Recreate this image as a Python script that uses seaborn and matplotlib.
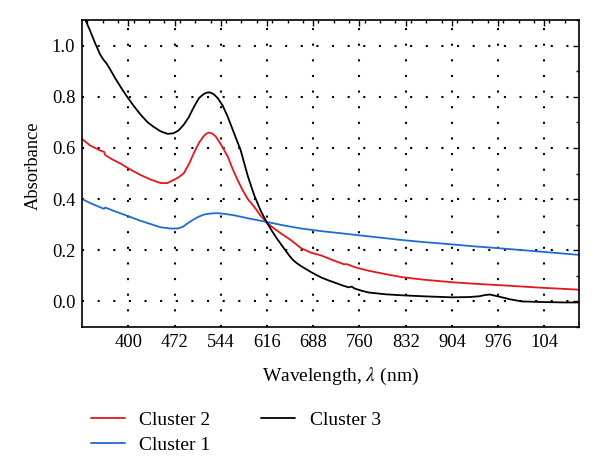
import matplotlib
matplotlib.use("Agg")
import matplotlib.pyplot as plt
import seaborn as sns
import pandas as pd
from matplotlib.ticker import FixedLocator, MultipleLocator

wl_c3 = [328, 333, 340, 348, 356, 361, 366, 372, 380, 390, 398, 408, 419, 430, 439, 450,
         461, 470, 478, 486, 494, 502, 510, 517, 522, 527, 533, 539, 547, 555, 565, 575,
         586, 596, 606, 616, 625, 633, 643, 651, 656, 662, 669, 685, 700, 712, 721, 733,
         743, 748, 752, 763, 774, 800, 826, 860, 904, 930, 946, 956, 963, 972, 982, 995,
         1013, 1040, 1060, 1080, 1102]
ab_c3 = [1.13, 1.10, 1.06, 1.01, 0.965, 0.945, 0.93, 0.905, 0.87, 0.83, 0.80, 0.765, 0.73, 0.70, 0.683, 0.665,
         0.655, 0.657, 0.668, 0.69, 0.72, 0.76, 0.795, 0.81, 0.816, 0.817, 0.81, 0.795, 0.765, 0.72, 0.655, 0.59,
         0.49, 0.415, 0.355, 0.307, 0.27, 0.24, 0.205, 0.178, 0.163, 0.15, 0.138, 0.114, 0.094, 0.082, 0.074, 0.063,
         0.055, 0.058, 0.051, 0.042, 0.035, 0.028, 0.024, 0.02, 0.016, 0.017, 0.02, 0.025, 0.027, 0.022, 0.016, 0.008,
         0.0, -0.002, -0.003, -0.004, -0.004]

wl_c2 = [328, 340, 356, 362, 364, 375, 387, 400, 419, 435, 450, 460, 470, 478, 486, 494,
         502, 510, 517, 521, 525, 530, 536, 545, 555, 562, 570, 578, 586, 596, 606, 616,
         627, 638, 653, 669, 685, 700, 718, 733, 736, 740, 755, 774, 800, 826, 860, 904,
         940, 982, 1040, 1102]
ab_c2 = [0.635, 0.61, 0.59, 0.585, 0.572, 0.555, 0.54, 0.52, 0.494, 0.476, 0.463, 0.462, 0.474, 0.485, 0.50, 0.535,
         0.58, 0.62, 0.645, 0.655, 0.66, 0.657, 0.645, 0.61, 0.565, 0.52, 0.475, 0.435, 0.40, 0.37, 0.335, 0.307,
         0.285, 0.265, 0.24, 0.208, 0.19, 0.18, 0.162, 0.148, 0.145, 0.146, 0.132, 0.12, 0.107, 0.095, 0.085, 0.075,
         0.069, 0.063, 0.054, 0.046]

wl_c1 = [328, 340, 356, 362, 364, 375, 387, 400, 419, 435, 450, 465, 477, 485, 492, 500,
         507, 513, 520, 530, 539, 550, 564, 590, 617, 640, 669, 700, 747, 790, 826, 860,
         904, 940, 982, 1040, 1102]
ab_c1 = [0.40, 0.385, 0.368, 0.362, 0.367, 0.356, 0.345, 0.333, 0.315, 0.302, 0.29, 0.285, 0.285, 0.292, 0.305, 0.318,
         0.328, 0.335, 0.341, 0.344, 0.345, 0.342, 0.337, 0.323, 0.31, 0.298, 0.285, 0.275, 0.262, 0.25, 0.24, 0.232,
         0.223, 0.215, 0.207, 0.195, 0.182]

tick_pos = [400, 472, 544, 616, 688, 760, 832, 904, 976, 1048]
tick_lab = ["400", "472", "544", "616", "688", "760", "832", "904", "976", "104"]

sns.set_theme(style="white")
plt.rcParams["font.family"] = ["Liberation Serif", "DejaVu Serif"]
plt.rcParams["mathtext.fontset"] = "stix"
plt.rcParams["text.color"] = "black"
plt.rcParams["axes.labelcolor"] = "black"
plt.rcParams["xtick.labelcolor"] = "black"
plt.rcParams["ytick.labelcolor"] = "black"

fig = plt.figure(figsize=(6, 4.76), dpi=100)
ax = fig.add_axes([0.137, 0.313, 0.828, 0.645])

sns.lineplot(x=wl_c2, y=ab_c2, color="#e3171c", lw=1.3, label="Cluster 2", sort=False, ax=ax)
sns.lineplot(x=wl_c1, y=ab_c1, color="#1f6cd0", lw=1.3, label="Cluster 1", sort=False, ax=ax)
sns.lineplot(x=wl_c3, y=ab_c3, color="black", lw=1.3, label="Cluster 3", sort=False, ax=ax)

ax.set_xlim(328, 1102)
ax.set_ylim(-0.1, 1.1)
ax.xaxis.set_major_locator(FixedLocator(tick_pos))
ax.set_xticklabels(tick_lab)
ax.xaxis.set_minor_locator(MultipleLocator(24))
ax.set_yticks([0.0, 0.2, 0.4, 0.6, 0.8, 1.0])
ax.set_yticklabels(["0.0", "0.2", "0.4", "0.6", "0.8", "1.0"])
ax.yaxis.set_minor_locator(MultipleLocator(0.1))
ax.tick_params(which="both", direction="in", top=True, right=True, labelsize=13.3,
               color="black", labelcolor="black")
ax.tick_params(which="major", length=4, width=1, pad=5)
ax.tick_params(which="minor", length=2.5, width=1)
for s in ax.spines.values():
    s.set_color("black")
    s.set_linewidth(1.2)
ax.grid(True, which="major", color="black", lw=1.5, linestyle=(0, (1, 6.5)))

ax.set_xlabel(r"Wavelength, $\lambda$ (nm)", fontsize=14, color="black")
ax.set_ylabel("Absorbance", fontsize=13.3, color="black")
ax.xaxis.set_label_coords(0.519, -0.128)
ax.yaxis.set_label_coords(-0.081, 0.524)

h, l = ax.get_legend_handles_labels()
ax.get_legend().remove()
fig.legend(h, l, ncol=2, loc="upper left", bbox_to_anchor=(0.122, 0.173), frameon=False,
           fontsize=14, handlelength=1.75, columnspacing=2.6, labelspacing=0.4, handletextpad=0.75,
           labelcolor="black")

fig.savefig("out.png", dpi=100)
